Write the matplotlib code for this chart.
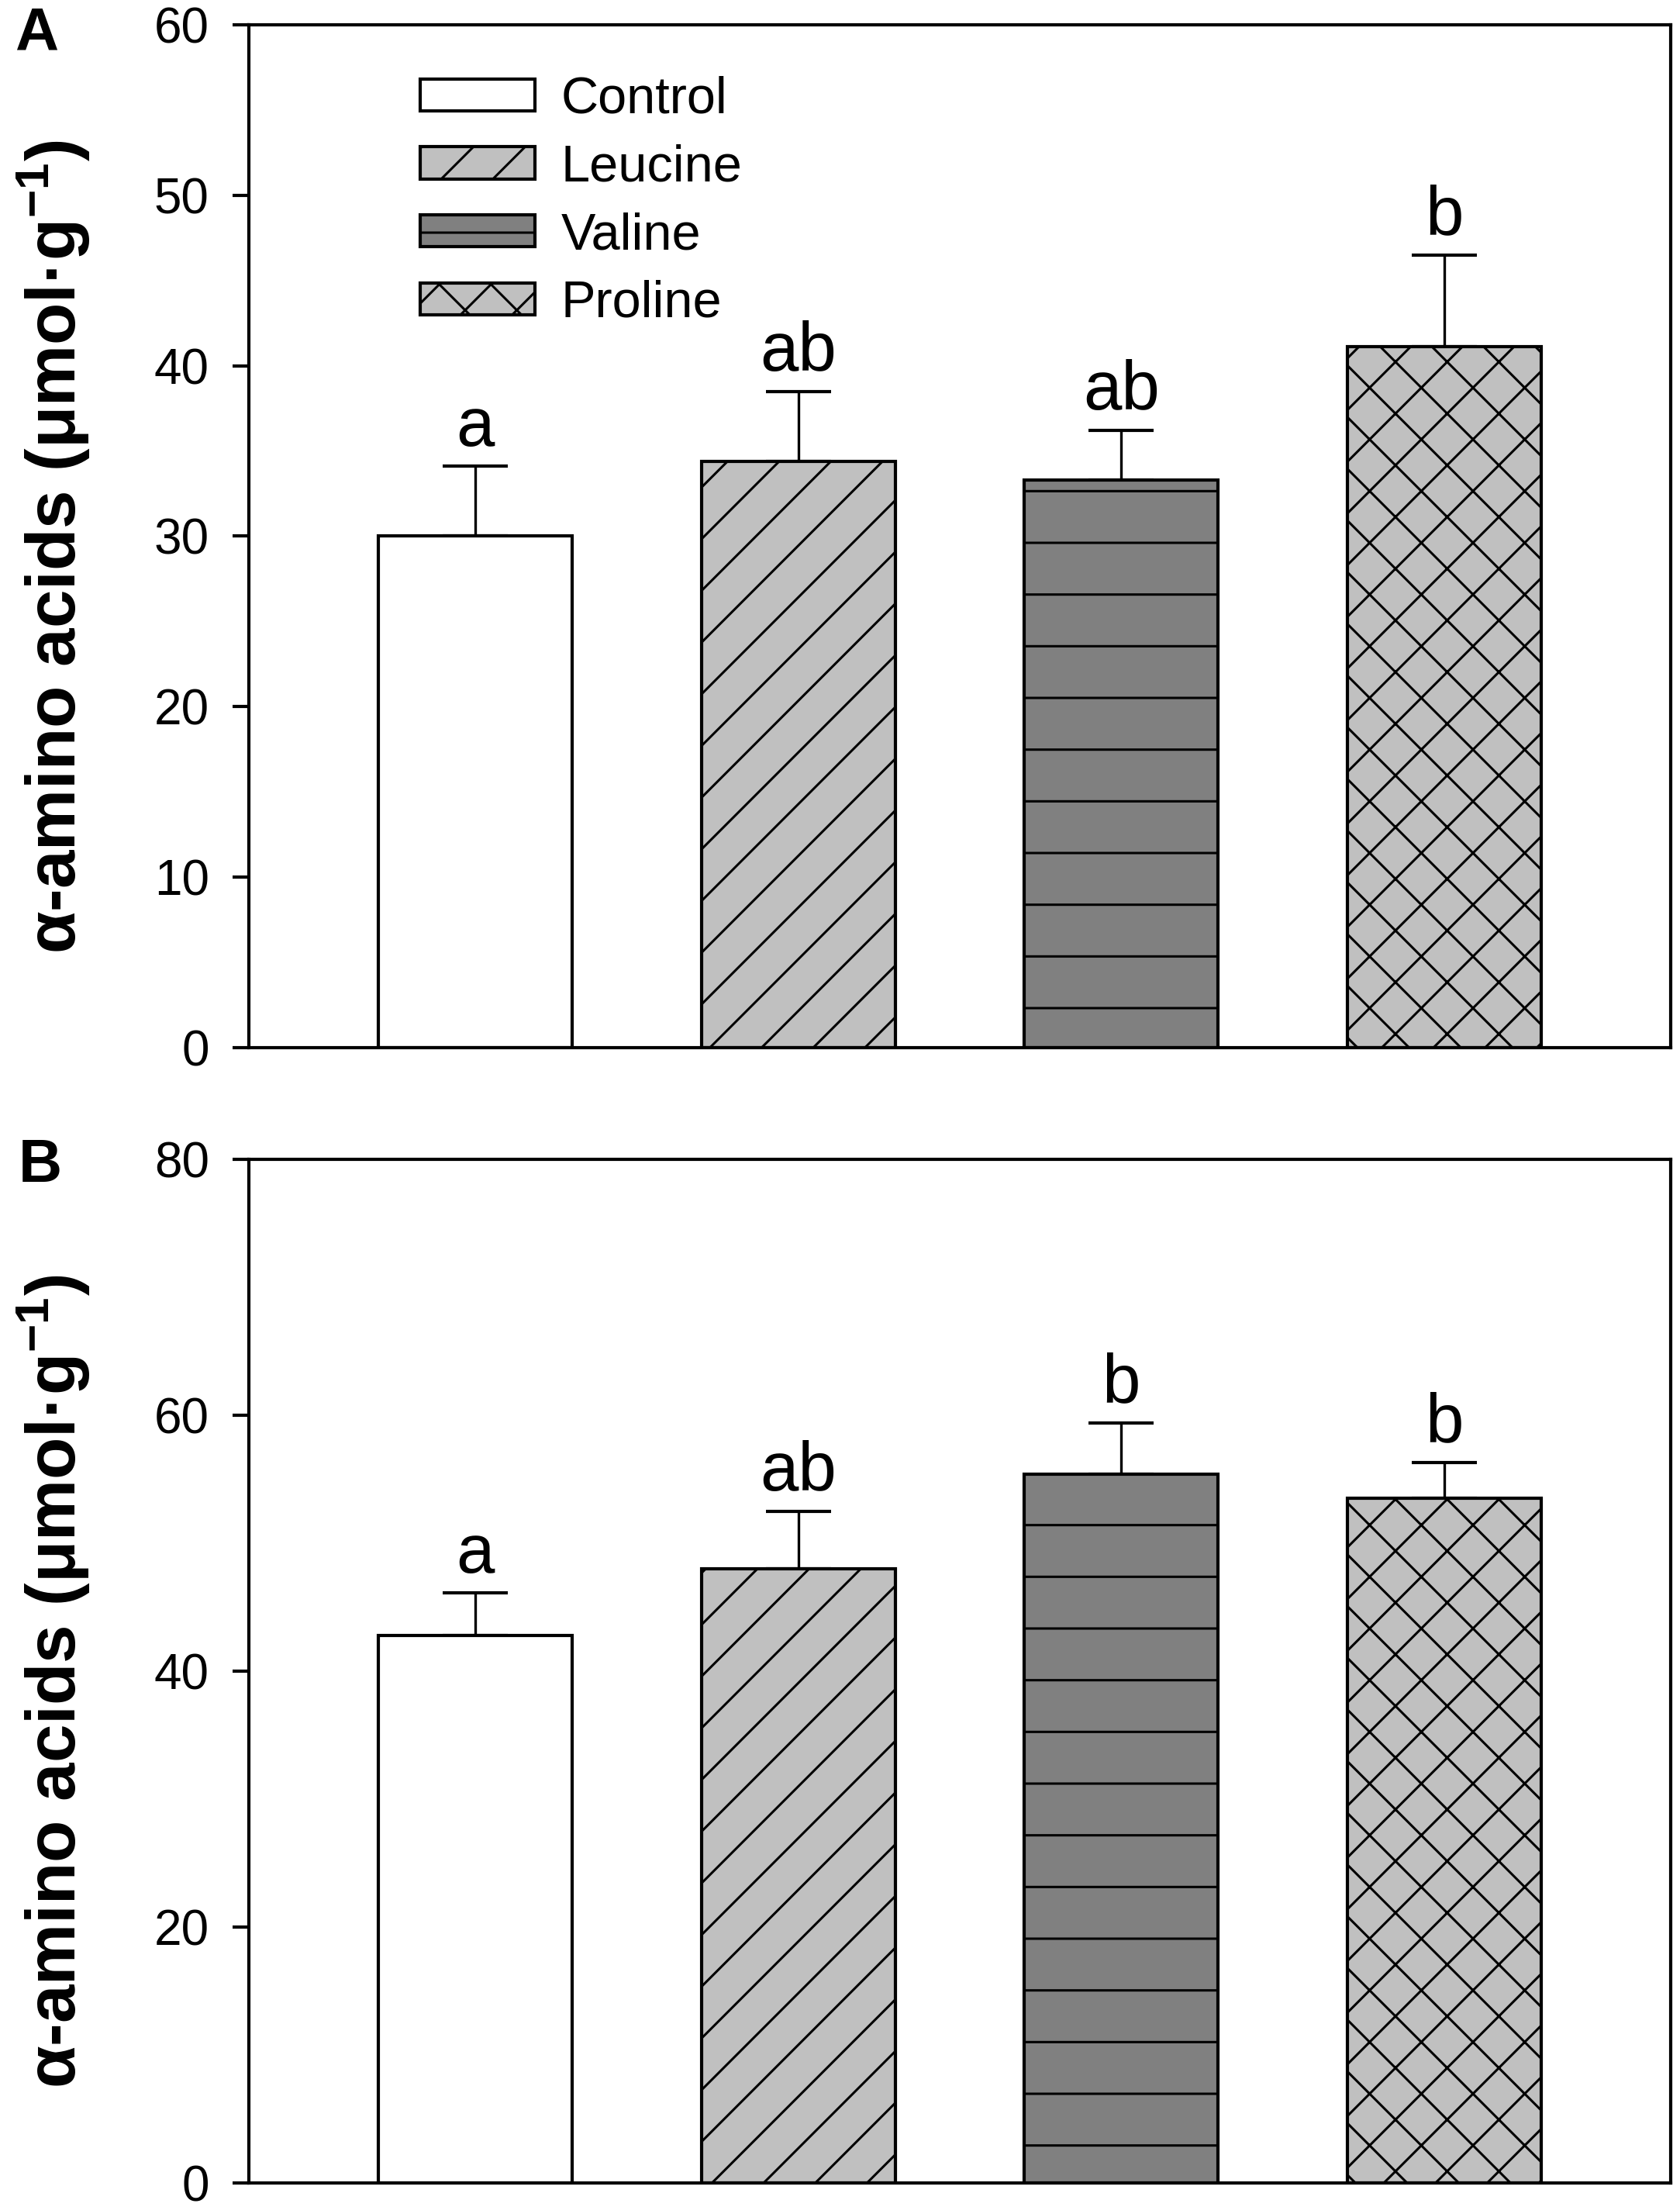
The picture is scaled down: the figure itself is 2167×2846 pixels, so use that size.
import matplotlib
matplotlib.use("Agg")
import matplotlib.pyplot as plt

plt.rcParams['font.family'] = ['Liberation Sans', 'DejaVu Sans']
plt.rcParams['mathtext.fontset'] = 'custom'
plt.rcParams['mathtext.rm'] = 'Liberation Sans'
plt.rcParams['mathtext.bf'] = 'Liberation Sans:bold'
plt.rcParams['hatch.linewidth'] = 0.55

treatments = ["Control", "Leucine", "Valine", "Proline"]
fills = ["white", "#c0c0c0", "#808080", "#c0c0c0"]
hatches = ["", "//", "-", "xx"]

# panel A
a_means = [30.0, 34.4, 33.3, 41.1]
a_err = [4.1, 4.1, 2.9, 5.4]
a_letters = ["a", "ab", "ab", "b"]

# panel B
b_means = [42.8, 48.0, 55.4, 53.5]
b_err = [3.3, 4.5, 4.0, 2.8]
b_letters = ["a", "ab", "b", "b"]

ylab = r"α-amino acids (μmol·g$^{\mathbf{-1}}$)"


def draw_panel(ax, means, errs, letters, ymax, step):
    x = list(range(len(treatments)))
    bars = ax.bar(x, means, width=0.6, color=fills, edgecolor="black", linewidth=0.75, zorder=2)
    for p, h in zip(bars.patches, hatches):
        p.set_hatch(h)
    ax.errorbar(x, means, yerr=[[0] * len(means), errs], fmt="none", ecolor="black",
                elinewidth=0.6, capsize=7.5, capthick=0.75, zorder=1)
    for i, (m, e, t) in enumerate(zip(means, errs, letters)):
        ax.annotate(t, (i, m + e), xytext=(0, 4.8), textcoords="offset points",
                    ha="center", va="baseline", fontsize=16)
    ax.set_xlim(-0.7, 3.7)
    ax.set_ylim(0, ymax)
    ax.set_yticks(range(0, ymax + 1, step))
    ax.set_xticks([])
    ax.tick_params(axis="y", direction="out", length=3.7, width=0.75, pad=5.5, labelsize=11.5)
    for s in ax.spines.values():
        s.set_linewidth(0.75)
    ax.set_ylabel(ylab, fontsize=16, fontweight="bold")
    ax.yaxis.set_label_coords(-0.11, 0.49)
    return bars


fig = plt.figure(figsize=(2167 / 400, 2846 / 400), dpi=400)
ax1 = fig.add_axes([0.1481, 0.5253, 0.8464, 0.4635])
ax2 = fig.add_axes([0.1481, 0.0109, 0.8464, 0.4638])

bars = draw_panel(ax1, a_means, a_err, a_letters, 60, 10)
draw_panel(ax2, b_means, b_err, b_letters, 80, 20)

ax1.legend(bars.patches, treatments, loc="upper left", bbox_to_anchor=(0.1205, 0.95),
           frameon=False, fontsize=12, handlelength=2.22, handleheight=0.58,
           handletextpad=0.5, labelspacing=0.385, borderpad=0, borderaxespad=0)

fig.text(0.009, 1 - 7 / 2846, "A", fontsize=14, fontweight="bold", ha="left", va="top")
fig.text(0.011, 1 - 1467 / 2846, "B", fontsize=14, fontweight="bold", ha="left", va="top")

fig.savefig("out.png", dpi=400)
